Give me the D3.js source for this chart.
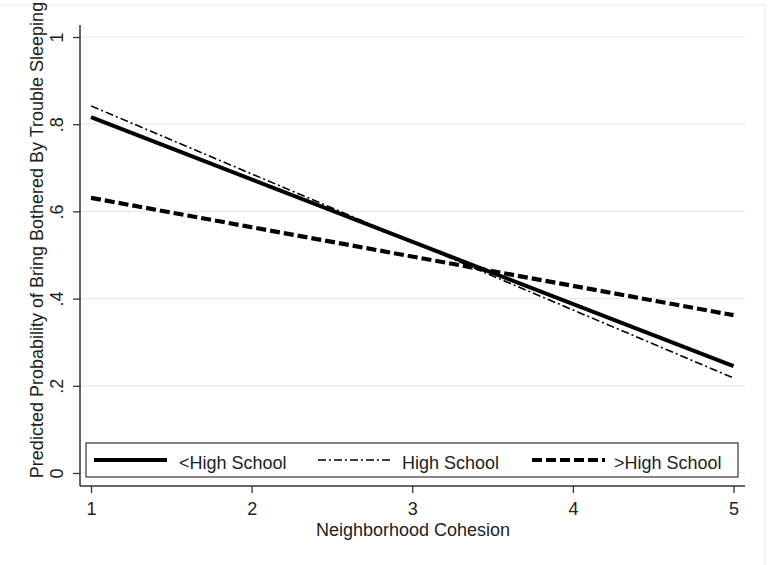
<!DOCTYPE html>
<html><head><meta charset="utf-8">
<script src="https://cdn.jsdelivr.net/npm/d3@7"></script>
<style>body{margin:0;background:#fff}svg{display:block}text{font-family:"Liberation Sans",Arial,sans-serif;fill:#222}</style>
</head><body><svg id="c" width="771" height="565"></svg>
<script>
const xCats = [1, 2, 3, 4, 5];
const yTicks = [0, 0.2, 0.4, 0.6, 0.8, 1];
const yTickLabels = ["0", ".2", ".4", ".6", ".8", "1"];
const seriesNames = ["<High School", "High School", ">High School"];
const xEnds = [1, 5];
const lessHS = [0.816, 0.245];
const highSchool = [0.842, 0.218];
const moreHS = [0.631, 0.362];
const xTitle = "Neighborhood Cohesion";
const yTitle = "Predicted Probability of Bring Bothered By Trouble Sleeping";

const svg = d3.select("#c");
const x = d3.scaleLinear().domain([1, 5]).range([91, 733.5]);
const y = d3.scaleLinear().domain([0, 1]).range([473, 37]);
const axisColor = "#333";
const fs = "18px";

// outer faint border
svg.append("rect").attr("x", -2).attr("y", 5).attr("width", 767).attr("height", 600)
  .attr("fill", "none").attr("stroke", "#eeeeee").attr("stroke-width", 1.5);

// gridlines
svg.append("g").selectAll("line").data(yTicks).join("line")
  .attr("x1", 80).attr("x2", 745).attr("y1", d => y(d)).attr("y2", d => y(d))
  .attr("stroke", "#e8e8e8").attr("stroke-width", 1.2);

// y axis
const ya = svg.append("g").attr("transform", "translate(80,0)")
  .call(d3.axisLeft(y).tickValues(yTicks).tickFormat((d, i) => yTickLabels[i]).tickSize(7).tickPadding(0));
ya.select(".domain").attr("d", `M0,25V486`).attr("stroke", axisColor).attr("stroke-width", 1.5);
ya.selectAll(".tick line").attr("stroke", axisColor).attr("stroke-width", 1.3);
ya.selectAll(".tick text").attr("transform", "translate(-17,0) rotate(-90)").attr("x", 0).attr("y", 0)
  .attr("dy", "0").attr("text-anchor", "middle").style("font-size", fs).attr("fill", "#222");

// x axis
const xa = svg.append("g").attr("transform", "translate(0,486)")
  .call(d3.axisBottom(x).tickValues(xCats).tickFormat(d3.format("d")).tickSize(7).tickPadding(9));
xa.select(".domain").attr("d", "M80,0H745").attr("stroke", axisColor).attr("stroke-width", 1.5);
xa.selectAll(".tick line").attr("stroke", axisColor).attr("stroke-width", 1.3);
xa.selectAll(".tick text").style("font-size", fs).attr("fill", "#222");

// titles
svg.append("text").attr("x", 413).attr("y", 536).attr("text-anchor", "middle")
  .style("font-size", fs).text(xTitle);
svg.append("text").attr("transform", "translate(43,240) rotate(-90)").attr("text-anchor", "middle")
  .style("font-size", fs).text(yTitle);

// series
const styles = [
  {w: 4, dash: null},
  {w: 1.6, dash: "8,3,2,3"},
  {w: 4.2, dash: "10,4"}
];
const allSeries = [lessHS, highSchool, moreHS];
const line = d3.line().x(d => x(d[0])).y(d => y(d[1]));
allSeries.forEach((vals, i) => {
  svg.append("path").datum(xEnds.map((xv, j) => [xv, vals[j]]))
    .attr("d", line).attr("fill", "none").attr("stroke", "#000")
    .attr("stroke-width", styles[i].w).attr("stroke-dasharray", styles[i].dash);
});

// legend
svg.append("rect").attr("x", 86).attr("y", 443).attr("width", 652).attr("height", 34)
  .attr("fill", "#fff").attr("stroke", "#444").attr("stroke-width", 1.3);
const legX = [[94, 167, 179], [318, 390, 402], [532, 605, 614]];
seriesNames.forEach((n, i) => {
  svg.append("line").attr("x1", legX[i][0]).attr("x2", legX[i][1]).attr("y1", 460).attr("y2", 460)
    .attr("stroke", "#000").attr("stroke-width", styles[i].w).attr("stroke-dasharray", styles[i].dash);
  svg.append("text").attr("x", legX[i][2]).attr("y", 469).style("font-size", fs).text(n);
});
</script></body></html>
